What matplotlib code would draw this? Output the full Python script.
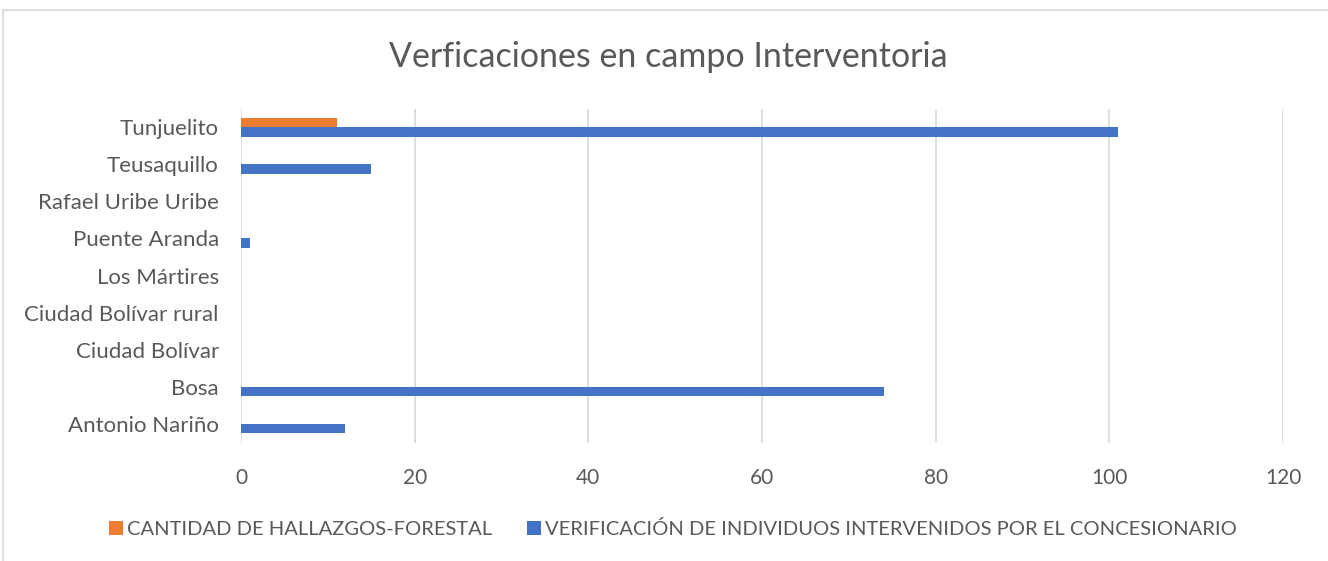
import matplotlib
matplotlib.use("Agg")
import matplotlib.pyplot as plt
from matplotlib.lines import Line2D
import numpy as np

categories = ["Antonio Nariño", "Bosa", "Ciudad Bolívar", "Ciudad Bolívar rural",
              "Los Mártires", "Puente Aranda", "Rafael Uribe Uribe", "Teusaquillo", "Tunjuelito"]
hallazgos = [0, 0, 0, 0, 0, 0, 0, 0, 11]
verificacion = [12, 74, 0, 0, 0, 1, 0, 15, 101]
series_names = ["CANTIDAD DE HALLAZGOS-FORESTAL",
                "VERIFICACIÓN DE INDIVIDUOS INTERVENIDOS POR EL CONCESIONARIO"]
xticks = [0, 20, 40, 60, 80, 100, 120]

plt.rcParams['font.family'] = ['Lato', 'DejaVu Sans']
grey = "#595959"
orange = "#ED7D31"
blue = "#4472C4"

fig = plt.figure(figsize=(13.28, 5.61), dpi=100)
ax = fig.add_axes([241/1328, 1-442.5/561, (1283-241)/1328, (442.5-108.5)/561])

y = np.arange(len(categories))
h = 0.256
b1 = ax.barh(y + h/2, hallazgos, height=h, color=orange, label=series_names[0], zorder=3)
b2 = ax.barh(y - h/2, verificacion, height=h, color=blue, label=series_names[1], zorder=3)

ax.set_xlim(0, 120)
ax.set_ylim(-0.5, len(categories) - 0.5)
ax.set_xticks(xticks)
ax.set_yticks(y)
ax.set_yticklabels(categories)
ax.tick_params(axis='y', length=0, labelsize=16, labelcolor=grey, pad=16)
ax.tick_params(axis='x', length=0, labelsize=15, labelcolor=grey, pad=18)
for s in ax.spines.values():
    s.set_visible(False)
ax.grid(axis='x', color="#d9d9d9", linewidth=1.2, zorder=0)
ax.set_axisbelow(True)

fig.text(668/1328, 1-57/561, "Verficaciones en campo Interventoria", ha='center', va='center',
         fontsize=24.5, color=grey)

fig.legend(handles=[b1, b2], labels=series_names, loc='center', bbox_to_anchor=(673/1328, 1-529/561),
           ncol=2, frameon=False, fontsize=14.5, labelcolor=grey, handlelength=0.7, handleheight=0.7,
           handletextpad=0.2, columnspacing=1.7)

# chart border
fig.add_artist(Line2D([3/1328, 1], [1-10/561, 1-10/561], color="#d9d9d9", linewidth=1.2, transform=fig.transFigure))
fig.add_artist(Line2D([3/1328, 3/1328], [0, 1-10/561], color="#d9d9d9", linewidth=1.2, transform=fig.transFigure))

fig.savefig("out.png", dpi=100, facecolor="white")
